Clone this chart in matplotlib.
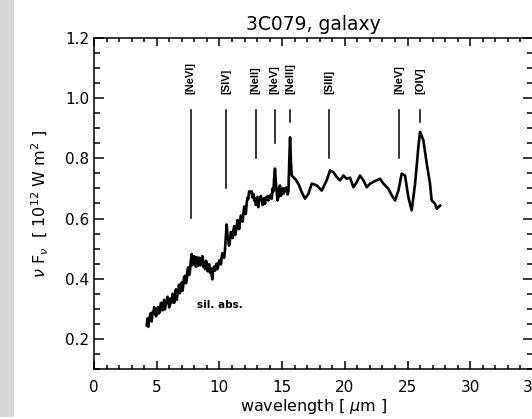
import numpy as np
import matplotlib.pyplot as plt
from matplotlib.ticker import MultipleLocator

# IRS spectrum of 3C079 (wavelength in micron, nu F_nu)
wave = [4.20, 4.27, 4.33, 4.40, 4.50, 4.60, 4.68, 4.75, 4.80, 4.86, 4.93, 5.00,
        5.05, 5.10, 5.18, 5.26, 5.33, 5.40, 5.46, 5.53, 5.59, 5.65, 5.72, 5.80,
        5.86, 5.93, 5.99, 6.05, 6.12, 6.20, 6.26, 6.32, 6.39, 6.46, 6.53, 6.60,
        6.66, 6.72, 6.78, 6.85, 6.92, 6.99, 7.05, 7.10, 7.18, 7.26, 7.33, 7.40,
        7.46, 7.52, 7.58, 7.65, 7.72, 7.79, 7.85, 7.92, 7.98, 8.05, 8.12, 8.18,
        8.25, 8.32, 8.38, 8.45, 8.52, 8.59, 8.65, 8.72, 8.78, 8.85, 8.92, 8.98,
        9.05, 9.11, 9.18, 9.25, 9.32, 9.38, 9.44, 9.50, 9.58, 9.65, 9.72, 9.78,
        9.85, 9.91, 9.98, 10.05, 10.12, 10.18, 10.24, 10.30, 10.37, 10.44, 10.51, 10.58,
        10.64, 10.70, 10.77, 10.84, 10.91, 10.98, 11.05, 11.11, 11.18, 11.25, 11.32, 11.38,
        11.44, 11.50, 11.57, 11.64, 11.71, 11.78, 11.85, 11.91, 11.98, 12.04, 12.10, 12.17,
        12.24, 12.30, 12.37, 12.44, 12.57, 12.64, 12.70, 12.77, 12.84, 12.90, 12.97, 13.03,
        13.10, 13.17, 13.23, 13.30, 13.37, 13.44, 13.50, 13.57, 13.63, 13.70, 13.77, 13.84,
        13.90, 13.97, 14.04, 14.10, 14.17, 14.24, 14.30, 14.37, 14.43, 14.50, 14.56, 14.63,
        14.70, 14.76, 14.83, 14.90, 14.96, 15.03, 15.10, 15.16, 15.23, 15.30, 15.36, 15.43,
        15.50, 15.56, 15.63, 15.70, 15.76, 16.03, 16.29, 16.56, 16.82, 17.09, 17.36, 17.76,
        18.16, 18.55, 18.82, 19.09, 19.35, 19.62, 19.88, 20.15, 20.41, 20.68, 20.95, 21.21,
        21.48, 21.74, 22.01, 22.28, 22.54, 22.81, 23.07, 23.47, 23.74, 24.00, 24.27, 24.53,
        24.80, 25.06, 25.33, 25.60, 25.86, 25.99, 26.26, 26.53, 26.79, 26.92, 27.06, 27.19,
        27.33, 27.46, 27.59]
flux = [0.245, 0.268, 0.240, 0.262, 0.285, 0.258, 0.290, 0.285, 0.305, 0.299, 0.275, 0.280,
        0.300, 0.305, 0.285, 0.293, 0.320, 0.318, 0.295, 0.310, 0.330, 0.298, 0.315, 0.325,
        0.340, 0.327, 0.305, 0.312, 0.335, 0.321, 0.350, 0.338, 0.320, 0.343, 0.365, 0.330,
        0.352, 0.360, 0.380, 0.352, 0.378, 0.388, 0.360, 0.372, 0.405, 0.410, 0.385, 0.398,
        0.430, 0.438, 0.412, 0.425, 0.460, 0.482, 0.445, 0.450, 0.475, 0.460, 0.440, 0.472,
        0.450, 0.443, 0.470, 0.468, 0.445, 0.460, 0.475, 0.440, 0.455, 0.432, 0.460, 0.455,
        0.425, 0.438, 0.448, 0.420, 0.435, 0.410, 0.398, 0.432, 0.440, 0.427, 0.445, 0.450,
        0.432, 0.443, 0.460, 0.462, 0.448, 0.471, 0.485, 0.480, 0.470, 0.493, 0.540, 0.580,
        0.545, 0.530, 0.510, 0.527, 0.555, 0.548, 0.535, 0.560, 0.575, 0.545, 0.560, 0.571,
        0.595, 0.585, 0.565, 0.593, 0.610, 0.605, 0.590, 0.616, 0.640, 0.630, 0.615, 0.649,
        0.670, 0.665, 0.690, 0.688, 0.690, 0.670, 0.682, 0.660, 0.668, 0.645, 0.654, 0.672,
        0.638, 0.660, 0.662, 0.675, 0.666, 0.645, 0.650, 0.668, 0.649, 0.670, 0.664, 0.675,
        0.660, 0.672, 0.668, 0.680, 0.666, 0.700, 0.690, 0.740, 0.766, 0.720, 0.693, 0.660,
        0.671, 0.700, 0.710, 0.675, 0.690, 0.700, 0.682, 0.700, 0.698, 0.690, 0.704, 0.680,
        0.690, 0.780, 0.870, 0.790, 0.743, 0.732, 0.716, 0.688, 0.666, 0.682, 0.716, 0.710,
        0.693, 0.727, 0.760, 0.754, 0.738, 0.727, 0.743, 0.732, 0.736, 0.704, 0.721, 0.743,
        0.727, 0.704, 0.716, 0.722, 0.727, 0.732, 0.716, 0.699, 0.677, 0.660, 0.693, 0.749,
        0.743, 0.671, 0.627, 0.716, 0.838, 0.888, 0.860, 0.782, 0.716, 0.660, 0.655, 0.649,
        0.632, 0.638, 0.643]

# fine-structure lines: position, label, bottom end of the marker
line_wave = [7.70, 10.52, 12.90, 14.42, 15.62, 18.75, 24.35, 26.00]
line_name = ['[NeVI]', '[SIV]', '[NeII]', '[NeV]', '[NeIII]', '[SIII]', '[NeV]', '[OIV]']
line_low = [0.603, 0.700, 0.800, 0.850, 0.920, 0.800, 0.800, 0.920]

fig = plt.figure(figsize=(5.32, 4.19), dpi=100)
# grey strip along the left edge of the page
fig.patches.append(plt.Rectangle((0, 0.005), 14 / 532, 0.995, transform=fig.transFigure,
                                 facecolor='#d6d6d6', edgecolor='none', zorder=0))

ax = fig.add_axes([94 / 532, 50 / 419, 439 / 532, 331 / 419])
ax.plot(wave, flux, color='black', lw=1.9)

for w, name, lo in zip(line_wave, line_name, line_low):
    ax.plot([w, w], [lo, 0.962], color='black', lw=1.1)
    ax.text(w, 1.015, name, rotation=90, ha='center', va='bottom',
            fontsize=8, fontweight='bold', family='Liberation Sans')

ax.text(8.2, 0.313, 'sil. abs.', fontsize=7.5, fontweight='bold', va='center')

ax.set_xlim(0, 35)
ax.set_ylim(0.1, 1.2)
ax.xaxis.set_major_locator(MultipleLocator(5))
ax.xaxis.set_minor_locator(MultipleLocator(1))
ax.yaxis.set_major_locator(MultipleLocator(0.2))
ax.yaxis.set_minor_locator(MultipleLocator(0.05))
ax.yaxis.set_major_formatter(plt.FormatStrFormatter('%.1f'))
ax.tick_params(which='both', direction='in', top=True, right=True, labelsize=11, width=1.1)
ax.tick_params(axis='y', which='major', length=7)
ax.tick_params(axis='y', which='minor', length=4.5)
ax.tick_params(axis='x', which='major', length=5.5, pad=8)
ax.tick_params(axis='x', which='minor', length=3)
for s in ax.spines.values():
    s.set_linewidth(1.1)

ax.set_title('3C079, galaxy', fontsize=13.5, pad=6)
ax.set_xlabel(r'wavelength [ $\mu$m ]', fontsize=11.5, labelpad=1)
ax.set_ylabel(r'$\nu$ F$_\nu$  [ 10$^{12}$ W m$^{2}$ ]', fontsize=11.5, labelpad=10)

plt.savefig('out.png', dpi=100)
